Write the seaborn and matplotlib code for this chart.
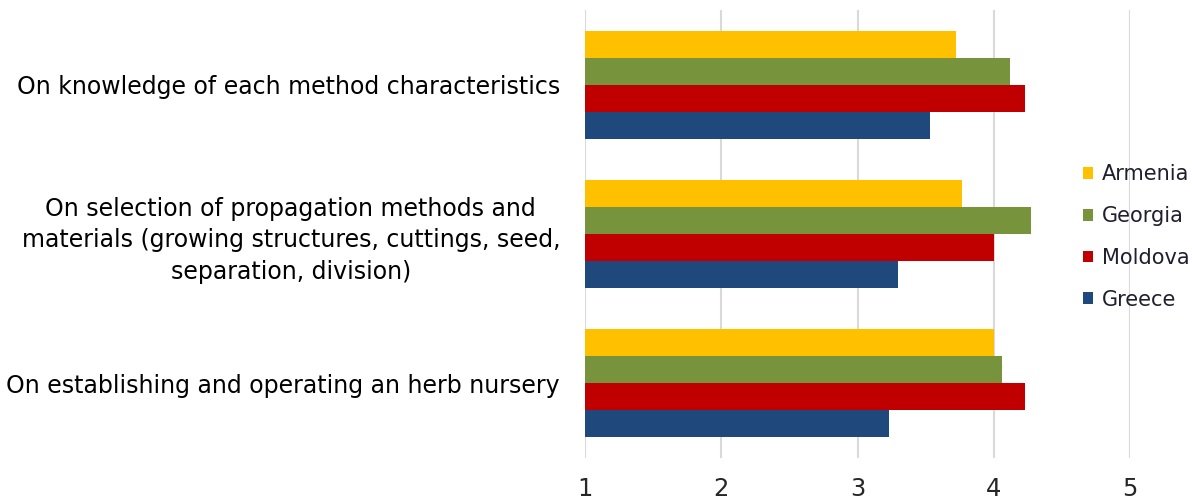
import pandas as pd
import numpy as np
import seaborn as sns
import matplotlib.pyplot as plt
from matplotlib.patches import Patch

topics = [
    "On knowledge of each method characteristics",
    "On selection of propagation methods and\nmaterials (growing structures, cuttings, seed,\nseparation, division)",
    "On establishing and operating an herb nursery",
]
countries = ["Armenia", "Georgia", "Moldova", "Greece"]
armenia = [3.72, 3.77, 4.00]
georgia = [4.12, 4.27, 4.06]
moldova = [4.23, 4.00, 4.23]
greece = [3.53, 3.30, 3.23]
colours = ["#FFC000", "#77933C", "#C00000", "#1F497D"]

rows = []
for country, vals in zip(countries, [armenia, georgia, moldova, greece]):
    for topic, v in zip(topics, vals):
        rows.append({"Topic": topic, "Country": country, "Score": v})
data = pd.DataFrame(rows)

sns.set_style("white")
plt.rcParams['font.family'] = ['DejaVu Sans']

fig = plt.figure(figsize=(11.92, 5.04), dpi=100)
ax = fig.add_axes([585 / 1192, 1 - 458 / 504, (1130 - 585) / 1192, (458 - 10) / 504])

sns.barplot(data=data, x="Score", y="Topic", hue="Country", order=topics,
            hue_order=countries, palette=colours, orient="h", width=0.725,
            saturation=1, legend=False, linewidth=0, ax=ax)

ax.set_xlim(1, 5)
ax.set_ylim(2.5, -0.5)
ax.set_xticks([1, 2, 3, 4, 5])
ax.grid(axis="x", color="#d9d9d9", linewidth=1.5)
ax.set_axisbelow(True)
for s in ax.spines.values():
    s.set_visible(False)
ax.set_xlabel("")
ax.set_ylabel("")
ax.tick_params(axis="both", length=0)
ax.tick_params(axis="x", pad=14)
ax.tick_params(axis="y", pad=18)
for lab in ax.get_xticklabels():
    lab.set_family(['Liberation Sans Narrow', 'DejaVu Sans'])
    lab.set_fontsize(17.5)
for lab in ax.get_yticklabels():
    lab.set_fontsize(17)
    lab.set_multialignment("center")
    lab.set_linespacing(1.4)
    lab.set_color("black")

handles = [Patch(facecolor=c, edgecolor="none") for c in colours]
fig.legend(handles, countries, loc="center left", bbox_to_anchor=(1064 / 1192, 1 - 237 / 504),
           frameon=False, fontsize=15, handlelength=0.5, handleheight=0.5,
           handletextpad=0.4, labelspacing=1.05, labelcolor="#1f1f2f")

fig.savefig("out.png", dpi=100)
